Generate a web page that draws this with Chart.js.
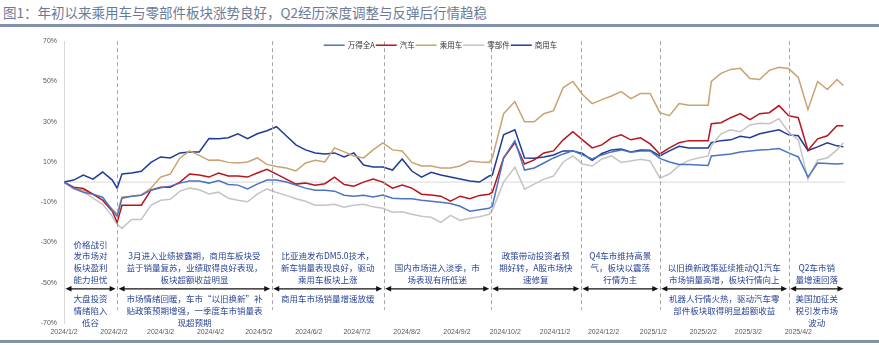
<!DOCTYPE html>
<html>
<head>
<meta charset="utf-8">
<script src="https://cdn.jsdelivr.net/npm/chart.js@4"></script>
<style>
  body { margin: 0; background: #fff; width: 879px; height: 345px; overflow: hidden; position: relative; font-family: "Noto Sans CJK SC", sans-serif; }
  .title { position: absolute; left: 3px; top: 2px; font-size: 13.5px; color: #6b7a99; white-space: nowrap; }
  .rule { position: absolute; left: 0; width: 879px; height: 3px; background: #8391ab; }
  .wrap { position: absolute; left: 0; top: 30px; width: 879px; height: 310px; }
</style>
</head>
<body>
<div class="title">图1：年初以来乘用车与零部件板块涨势良好，Q2经历深度调整与反弹后行情趋稳</div>
<div class="rule" style="top:24px"></div>
<div class="wrap"><canvas id="myChart"></canvas></div>
<div class="rule" style="top:340px"></div>
<script>
// trading-day offsets from 2024/1/2
const days = [0,6,12,18,24,30,33,36,42,48,54,60,66,72,78,84,90,96,102,108,114,120,126,132,138,144,150,156,162,168,174,180,186,192,198,204,210,216,222,228,234,240,246,252,258,264,266,273,280,286,292,298,304,310,316,322,328,334,340,346,352,358,364,370,376,382,388,394,400,402,408,414,420,426,432,438,444,450,456,462,468,474,480,484];

const wind = [0,-3,-5,-6,-7.5,-14,-17,-8,-7,-6.5,
  -4,-2.8,-2,-0.5,0.5,0.5,-0.5,0.8,-1.2,-1.5,
  -3.4,-1,1,1,0,-1.5,-3,-4,-4,-4.5,
  -6.5,-7,-6.5,-7.4,-6.4,-8,-8.3,-8.3,-9,-9.5,
  -10,-10.6,-12,-14.5,-13.7,-13,-12,12,20.6,6,
  7,9.5,12,14,15.5,13.5,11.5,13.5,15,16,
  14.8,15.5,15.5,11.8,10,8.8,8.8,8.5,8.3,13,
  13.5,14,15,15.5,16,16.2,16.7,14.5,12.5,2.5,
  9.5,9.3,9,9.3];
const auto = [0,-2.5,-3.2,-6,-9,-14.5,-20,-11.5,-11.5,-11.5,
  -4,-2.5,-2.5,0,4,3.5,2.5,4.5,3,3,
  2.5,4.5,6.4,4,1.5,-1,-0.5,-1.5,-0.8,2.5,
  -1.2,-2,0,1.5,0,-3,-1.5,-3,-6,-6.4,
  -7,-9.5,-7,-8.3,-6.6,-6,-5,12,19.6,9,
  11,14.5,15.5,21,25,21,17,18.5,22,23.5,
  21,22,19,14,17,19.6,20.6,20.6,20.6,29,
  29.5,32,34,31,34,34.5,38,33,32,15.7,
  21.5,23,28,28];
const passenger = [0,-3,-4,-6,-9,-13.5,-15.7,-7.4,-7,-6.4,
  -3,2.5,4,12,15.5,13.3,10.8,11,9.8,9.5,
  10,12,8.8,7.8,7,5.5,9.5,10.8,10,17,
  15,13,12,16,19.5,16,15.5,9.8,8,8,
  7,7,8,10.5,10,9.8,12,34,40,30,
  30,34,35.5,47,50,43.5,39,41,42.8,45,
  41.5,44,44,34.5,33,39,38.2,38.2,38.2,50,
  54,56,56.5,51.5,51,55.5,57,56.4,52,36,
  50,46,51,48];
const parts = [0,-3.4,-4.8,-8,-11,-17,-21,-23,-18.6,-18.6,
  -11.5,-9,-8.5,-4.5,-3,-3.8,-5.9,-5,-8,-9,
  -9.8,-6,-3.4,-5.2,-6.6,-8.3,-9.5,-11.5,-11.5,-11,
  -12.5,-11.5,-11,-12.3,-13,-15,-14.7,-16,-17,-17.5,
  -20,-16.5,-19,-18,-17.2,-16,-14,0,7.4,-3.5,
  -1,1.5,3,10,13,9,8,11.5,13,9.8,
  10.5,11.3,10.5,2,4,8.3,10.8,12,13,18,
  24,26,25,28.4,29.2,29,31.5,24.8,21,1.5,
  11,12,16,19.6];
const commercial = [0,1,3.5,1.5,5,1,-3,4,4.5,5.4,
  9.8,12.5,12,14.5,15,15,21.6,21.5,22,24,
  21.6,24,25.5,27.5,23,18.5,16,14.5,14,14.5,
  12.5,14.5,8.5,7.5,7.5,6,11.5,5.5,2.5,4.9,
  3.5,2.5,1.5,0.5,0,3,3.5,23.5,26,12,
  11.8,12.5,13.5,15.5,15.5,14.2,10.8,14.2,16,16.5,
  15,16,15.8,13,15.5,17.8,17,17,17,19.6,
  20.6,21,22.8,22,24,25,26,23.5,23,15.7,
  17.5,19.5,18,17.6];

const tickDays = [0,31,60,91,121,152,182,213,244,274,305,335,366,397,425,456];
const tickLabels = ["2024/1/2","2024/2/2","2024/3/2","2024/4/2","2024/5/2","2024/6/2","2024/7/2","2024/8/2","2024/9/2","2024/10/2","2024/11/2","2024/12/2","2025/1/2","2025/2/2","2025/3/2","2025/4/2"];

// period boundaries (day offsets) and the notes for each period
const bounds = [0,33,129,198.5,265,321,370,450,485];
const notesAbove = [
  ["价格战引","发市场对","板块盈利","能力担忧"],
  ["3月进入业绩披露期，商用车板块受","益于销量复苏，业绩取得良好表现，","板块超额收益明显"],
  ["比亚迪发布DM5.0技术，","新车销量表现良好，驱动","乘用车板块上涨"],
  ["国内市场进入淡季，市","场表现有所低迷"],
  ["政策带动投资者预","期好转，A股市场快","速修复"],
  ["Q4车市维持高景","气，板块以震荡","行情为主"],
  ["以旧换新政策延续推动Q1汽车","市场销量高增，板块行情向上"],
  ["Q2车市销","量增速回落"]
];
const notesBelow = [
  ["大盘投资","情绪陷入","低谷"],
  ["市场情绪回暖，车市“以旧换新”补","贴政策预期增强，一季度车市销量表","现超预期"],
  ["商用车市场销量增速放缓"],
  [], [], [],
  ["机器人行情火热，驱动汽车零","部件板块取得明显超额收益"],
  ["美国加征关","税引发市场","波动"]
];

const toPoints = (vals) => days.map((d, i) => ({ x: d, y: vals[i] }));

const line = (label, vals, color) => ({
  label: label,
  data: toPoints(vals),
  borderColor: color,
  backgroundColor: color,
  borderWidth: 1.5,
  pointRadius: 0,
  tension: 0,
});

const notes = {
  id: "notes",
  beforeDatasetsDraw(chart) {
    const { ctx, chartArea, scales } = chart;
    const y0 = scales.y.getPixelForValue(0);
    ctx.save();
    ctx.strokeStyle = "#d9d9d9";
    ctx.lineWidth = 1;
    ctx.beginPath();
    ctx.moveTo(chartArea.left, y0);
    ctx.lineTo(chartArea.right, y0);
    ctx.stroke();
    ctx.restore();
  },
  afterDatasetsDraw(chart) {
    const { ctx, chartArea, scales } = chart;
    const xs = scales.x, ys = scales.y;
    const arrowY = ys.getPixelForValue(-53);
    const dashBottom = ys.getPixelForValue(-63.5);
    ctx.save();
    // dashed separators
    ctx.strokeStyle = "#a6a6a6";
    ctx.lineWidth = 1;
    ctx.setLineDash([4, 3]);
    for (let i = 1; i < bounds.length - 1; i++) {
      const x = Math.round(xs.getPixelForValue(bounds[i])) + 0.5;
      ctx.beginPath();
      ctx.moveTo(x, chartArea.top);
      ctx.lineTo(x, dashBottom);
      ctx.stroke();
    }
    ctx.setLineDash([]);
    // double arrows
    ctx.strokeStyle = "#111";
    ctx.fillStyle = "#111";
    ctx.lineWidth = 1.3;
    for (let i = 0; i < bounds.length - 1; i++) {
      const a = xs.getPixelForValue(bounds[i]) + 1.5;
      const b = xs.getPixelForValue(bounds[i + 1]) - 1.5;
      ctx.beginPath();
      ctx.moveTo(a + 3, arrowY);
      ctx.lineTo(b - 3, arrowY);
      ctx.stroke();
      ctx.beginPath();
      ctx.moveTo(a, arrowY);
      ctx.lineTo(a + 6, arrowY - 2.8);
      ctx.lineTo(a + 6, arrowY + 2.8);
      ctx.closePath();
      ctx.fill();
      ctx.beginPath();
      ctx.moveTo(b, arrowY);
      ctx.lineTo(b - 6, arrowY - 2.8);
      ctx.lineTo(b - 6, arrowY + 2.8);
      ctx.closePath();
      ctx.fill();
    }
    // notes
    ctx.fillStyle = "#2b4596";
    ctx.font = '8.5px "Noto Sans CJK SC"';
    ctx.textAlign = "center";
    ctx.textBaseline = "middle";
    for (let i = 0; i < bounds.length - 1; i++) {
      const cx = (xs.getPixelForValue(bounds[i]) + xs.getPixelForValue(bounds[i + 1])) / 2;
      const up = notesAbove[i];
      up.forEach((t, j) => {
        ctx.fillText(t, cx, arrowY - 9.5 - (up.length - 1 - j) * 11.6);
      });
      notesBelow[i].forEach((t, j) => {
        ctx.fillText(t, cx, arrowY + 10 + j * 12);
      });
    }
    // legend row, centred near the top of the plot
    ctx.font = '7.5px "Noto Sans CJK SC"';
    ctx.textAlign = "left";
    const sets = chart.data.datasets;
    const widths = sets.map((ds) => 21 + 3 + ctx.measureText(ds.label).width + 1);
    const total = widths.reduce((s, w) => s + w, 0);
    let lx = 441 - total / 2;
    const ly = chartArea.top + 4;
    sets.forEach((ds, i) => {
      ctx.strokeStyle = ds.borderColor;
      ctx.lineWidth = 1.5;
      ctx.beginPath();
      ctx.moveTo(lx, ly);
      ctx.lineTo(lx + 21, ly);
      ctx.stroke();
      ctx.fillStyle = "#333";
      ctx.fillText(ds.label, lx + 24, ly);
      lx += widths[i];
    });
    ctx.restore();
  }
};

const config = {
  type: "line",
  data: {
    datasets: [
      line("万得全A", wind, "#4a74c4"),
      line("汽车", auto, "#b8141c"),
      line("乘用车", passenger, "#c9a370"),
      line("零部件", parts, "#c4c4c4"),
      line("商用车", commercial, "#1f3c98"),
    ],
  },
  options: {
    responsive: true,
    maintainAspectRatio: false,
    animation: false,
    layout: { padding: { top: 7, right: 34, left: 0, bottom: 0 } },
    plugins: {
      legend: { display: false },
      tooltip: { enabled: false },
    },
    scales: {
      x: {
        type: "linear",
        min: 0,
        max: 485,
        grid: { display: false, drawTicks: false },
        border: { display: false },
        afterBuildTicks: (s) => { s.ticks = tickDays.map((v) => ({ value: v })); },
        afterFit: (s) => { s.height = 17; },
        ticks: {
          autoSkip: false,
          maxRotation: 0,
          padding: 5,
          color: "#595959",
          font: { size: 7, family: "Liberation Sans" },
          callback: (v) => tickLabels[tickDays.indexOf(v)],
        },
      },
      y: {
        min: -70,
        max: 70,
        grid: { display: false, drawTicks: false },
        border: { display: true, color: "#d9d9d9" },
        afterFit: (s) => { s.width = 64; },
        ticks: {
          stepSize: 20,
          padding: 7,
          color: "#595959",
          font: { size: 7, family: "Liberation Sans" },
          callback: (v) => v + "%",
        },
      },
    },
  },
  plugins: [notes],
};

const myChart = new Chart(document.getElementById("myChart"), config);
</script>
</body>
</html>
